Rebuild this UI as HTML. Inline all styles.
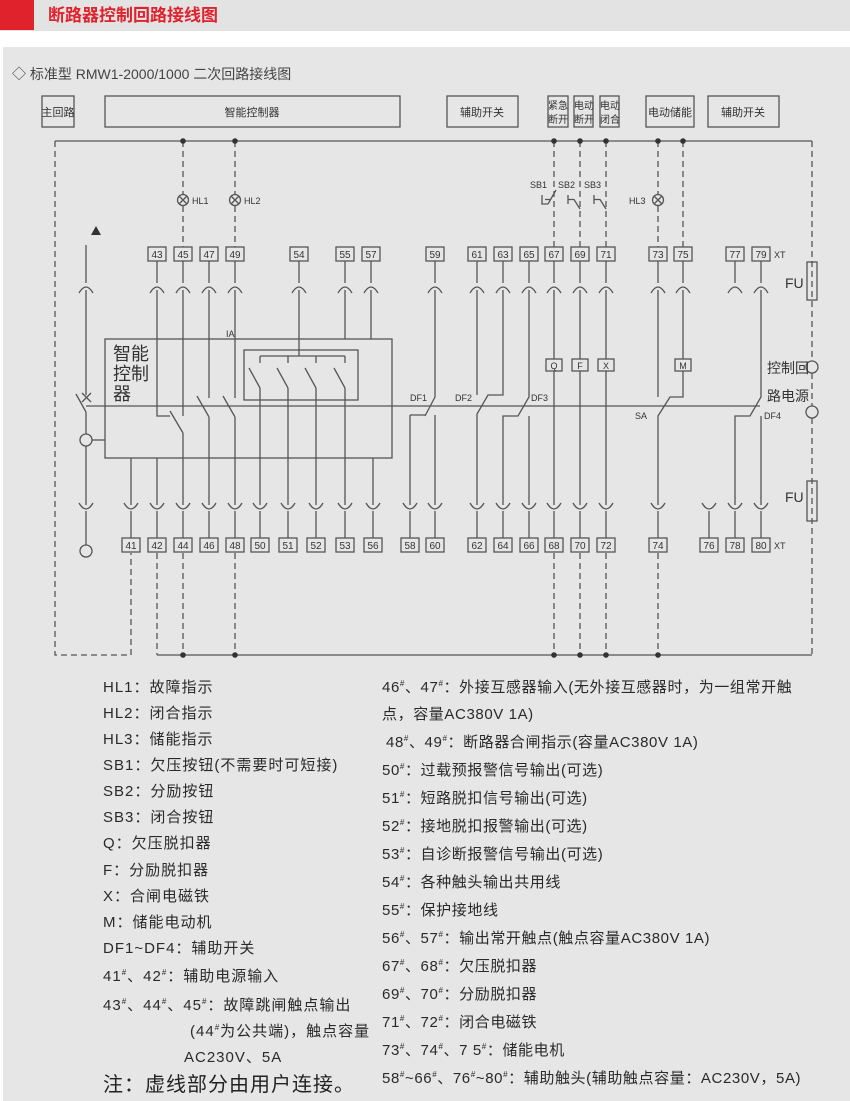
<!DOCTYPE html>
<html><head><meta charset="utf-8"><style>
html,body{margin:0;padding:0;background:#fff;}
svg{display:block;}
text{font-family:"Liberation Sans","Noto Sans CJK SC",sans-serif;fill:#333;}
.n{font-size:10px;text-anchor:middle;fill:#333;}
.b{font-size:11px;text-anchor:middle;}
.l{font-size:15px;fill:#2a2a2a;letter-spacing:1px;}
.r{letter-spacing:0.6px;}
.s{font-size:8px;}
</style></head><body>
<svg width="850" height="1101" viewBox="0 0 850 1101" xmlns="http://www.w3.org/2000/svg">
<rect x="0" y="0" width="850" height="31" fill="#e3e3e3"/>
<rect x="0" y="0" width="34" height="30" fill="#e0222c"/>
<text x="48" y="21" style="font-size:17px;fill:#e0222c;font-weight:bold">断路器控制回路接线图</text>
<rect x="3" y="47" width="847" height="1054" fill="#e6e6e6"/>
<text x="12" y="79" style="font-size:14px;fill:#444">◇ 标准型 RMW1-2000/1000 二次回路接线图</text>

<g fill="none" stroke="#555" stroke-width="1.3">
<rect x="42" y="96" width="32" height="31"/>
<rect x="105" y="96" width="295" height="31"/>
<rect x="447" y="96" width="71" height="31"/>
<rect x="548" y="96" width="20" height="31"/>
<rect x="574" y="96" width="19" height="31"/>
<rect x="600" y="96" width="19" height="31"/>
<rect x="646" y="96" width="48" height="31"/>
<rect x="708" y="96" width="71" height="31"/>
<path d="M55 141 H812"/>
<path d="M157 655 H812"/>
<g stroke-dasharray="6,4">
<path d="M55 141 V655 H131 V553"/>
<path d="M812 141 V361 M812 373 V406 M812 418 V655"/>
<path d="M157 553 V655"/>
<path d="M183 141 V194 M183 206 V247 M235 141 V194 M235 206 V247"/>
<path d="M554 141 V247 M580 141 V247 M606 141 V247"/>
<path d="M658 141 V194 M658 206 V247 M683 141 V247"/>
<path d="M183 553 V655 M235 553 V655 M554 553 V655 M580 553 V655 M606 553 V655 M658 553 V655"/>
</g>
<circle cx="183" cy="200" r="5.5"/><path d="M179 196 L187 204 M187 196 L179 204"/>
<circle cx="235" cy="200" r="5.5"/><path d="M231 196 L239 204 M239 196 L231 204"/>
<circle cx="658" cy="200" r="5.5"/><path d="M654 196 L662 204 M662 196 L654 204"/>
<path d="M542 195 V204 H548 M545 199.5 H551 M548 204 L556 190"/>
<path d="M568 195 V204 M568 199.5 H574 L580 209"/>
<path d="M594 195 V204 M594 199.5 H600 L606 209"/>
<g>
<rect x="148" y="247" width="18" height="14"/><rect x="174" y="247" width="18" height="14"/><rect x="200" y="247" width="18" height="14"/><rect x="226" y="247" width="18" height="14"/>
<rect x="290" y="247" width="18" height="14"/><rect x="336" y="247" width="18" height="14"/><rect x="362" y="247" width="18" height="14"/><rect x="426" y="247" width="18" height="14"/>
<rect x="468" y="247" width="18" height="14"/><rect x="494" y="247" width="18" height="14"/><rect x="520" y="247" width="18" height="14"/><rect x="545" y="247" width="18" height="14"/>
<rect x="571" y="247" width="18" height="14"/><rect x="597" y="247" width="18" height="14"/><rect x="649" y="247" width="18" height="14"/><rect x="674" y="247" width="18" height="14"/>
<rect x="726" y="247" width="18" height="14"/><rect x="752" y="247" width="18" height="14"/>
</g>
<g>
<rect x="122" y="538" width="18" height="14"/><rect x="148" y="538" width="18" height="14"/><rect x="174" y="538" width="18" height="14"/><rect x="200" y="538" width="18" height="14"/>
<rect x="226" y="538" width="18" height="14"/><rect x="251" y="538" width="18" height="14"/><rect x="279" y="538" width="18" height="14"/><rect x="307" y="538" width="18" height="14"/>
<rect x="336" y="538" width="18" height="14"/><rect x="364" y="538" width="18" height="14"/><rect x="401" y="538" width="18" height="14"/><rect x="426" y="538" width="18" height="14"/>
<rect x="468" y="538" width="18" height="14"/><rect x="494" y="538" width="18" height="14"/><rect x="520" y="538" width="18" height="14"/><rect x="545" y="538" width="18" height="14"/>
<rect x="571" y="538" width="18" height="14"/><rect x="597" y="538" width="18" height="14"/><rect x="649" y="538" width="18" height="14"/><rect x="700" y="538" width="18" height="14"/>
<rect x="726" y="538" width="18" height="14"/><rect x="752" y="538" width="18" height="14"/>
</g>
<g>
<path d="M79 293 Q86 281 93 293"/>
<path d="M150 293 Q157 281 164 293"/><path d="M176 293 Q183 281 190 293"/><path d="M202 293 Q209 281 216 293"/><path d="M228 293 Q235 281 242 293"/>
<path d="M292 293 Q299 281 306 293"/><path d="M338 293 Q345 281 352 293"/><path d="M364 293 Q371 281 378 293"/><path d="M428 293 Q435 281 442 293"/>
<path d="M470 293 Q477 281 484 293"/><path d="M496 293 Q503 281 510 293"/><path d="M522 293 Q529 281 536 293"/><path d="M547 293 Q554 281 561 293"/>
<path d="M573 293 Q580 281 587 293"/><path d="M599 293 Q606 281 613 293"/><path d="M651 293 Q658 281 665 293"/><path d="M676 293 Q683 281 690 293"/>
<path d="M728 293 Q735 281 742 293"/><path d="M754 293 Q761 281 768 293"/>
</g>
<g>
<path d="M79 503 Q86 515 93 503"/><path d="M124 503 Q131 515 138 503"/><path d="M150 503 Q157 515 164 503"/><path d="M176 503 Q183 515 190 503"/>
<path d="M202 503 Q209 515 216 503"/><path d="M228 503 Q235 515 242 503"/><path d="M253 503 Q260 515 267 503"/><path d="M281 503 Q288 515 295 503"/>
<path d="M309 503 Q316 515 323 503"/><path d="M338 503 Q345 515 352 503"/><path d="M366 503 Q373 515 380 503"/><path d="M403 503 Q410 515 417 503"/>
<path d="M428 503 Q435 515 442 503"/><path d="M470 503 Q477 515 484 503"/><path d="M496 503 Q503 515 510 503"/><path d="M522 503 Q529 515 536 503"/>
<path d="M547 503 Q554 515 561 503"/><path d="M573 503 Q580 515 587 503"/><path d="M599 503 Q606 515 613 503"/><path d="M651 503 Q658 515 665 503"/>
<path d="M702 503 Q709 515 716 503"/><path d="M728 503 Q735 515 742 503"/><path d="M754 503 Q761 515 768 503"/>
</g>
<path d="M157 261 V283 M183 261 V283 M209 261 V283 M235 261 V283 M299 261 V283 M345 261 V283 M371 261 V283 M435 261 V283 M477 261 V283 M503 261 V283 M529 261 V283 M554 261 V283 M580 261 V283 M606 261 V283 M658 261 V283 M683 261 V283 M735 261 V283 M761 261 V283"/>
<path d="M86 511 V545 M131 511 V538 M157 511 V538 M183 511 V538 M209 511 V538 M235 511 V538 M260 511 V538 M288 511 V538 M316 511 V538 M345 511 V538 M373 511 V538 M410 511 V538 M435 511 V538 M477 511 V538 M503 511 V538 M529 511 V538 M554 511 V538 M580 511 V538 M606 511 V538 M658 511 V538 M709 511 V538 M735 511 V538 M761 511 V538"/>
<path d="M86 245 V283 M86 290 V395 M76 394 L86 412 M82 393 L91 402 M91 393 L82 402 M86 412 V434 M86 446 V505"/>
<circle cx="86" cy="440" r="6"/><path d="M92 440 H105"/>
<circle cx="86" cy="551" r="6"/>
<rect x="105" y="339" width="287" height="119"/>
<path d="M86 406 H760"/>
<path d="M157 290 V416 H170 M170 411 L183 433 M183 290 V416 M183 433 V505"/>
<path d="M209 290 V398 M197 396 L209 417 M209 417 V505"/>
<path d="M235 290 V398 M223 396 L235 417 M235 417 V505"/>
<path d="M299 290 V356 M345 290 V339 M371 290 V339"/>
<rect x="244" y="350" width="114" height="50"/>
<path d="M260 356 H345 M260 356 V363 M288 356 V363 M316 356 V363 M345 356 V363"/>
<path d="M249 368 L260 388 M277 368 L288 388 M305 368 L316 388 M334 368 L345 388"/>
<path d="M260 388 V505 M288 388 V505 M316 388 V505 M345 388 V505"/>
<path d="M131 458 V505 M157 458 V505 M373 458 V505"/>
<path d="M435 290 V397 L425 416 M410 415 H425 M410 415 V505 M435 415 V505"/>
<path d="M477 290 V395 M503 290 V395 H488 L477 414 V505"/>
<path d="M529 290 V397 L518 416 H503 V505 M529 416 V505"/>
<path d="M554 290 V505 M580 290 V505 M606 290 V505"/>
<rect x="546" y="359" width="16" height="12" fill="#e6e6e6"/><rect x="572" y="359" width="16" height="12" fill="#e6e6e6"/><rect x="598" y="359" width="16" height="12" fill="#e6e6e6"/>
<path d="M658 290 V397 M683 290 V397 H670 L658 416 V505"/>
<rect x="675" y="359" width="16" height="12" fill="#e6e6e6"/>
<path d="M761 290 V397 L750 416 H735 V505 M761 416 V505"/>
<circle cx="812" cy="367" r="6"/><circle cx="812" cy="412" r="6"/>
<rect x="807" y="262" width="10" height="38" fill="none"/>
<rect x="807" y="481" width="10" height="40" fill="none"/>
<polygon points="96,226 91,235 101,235" fill="#333" stroke="none"/>
</g>
<g fill="#333">
<circle cx="183" cy="141" r="2.8"/><circle cx="235" cy="141" r="2.8"/><circle cx="554" cy="141" r="2.8"/><circle cx="580" cy="141" r="2.8"/><circle cx="606" cy="141" r="2.8"/><circle cx="658" cy="141" r="2.8"/><circle cx="683" cy="141" r="2.8"/>
<circle cx="183" cy="655" r="2.8"/><circle cx="235" cy="655" r="2.8"/><circle cx="554" cy="655" r="2.8"/><circle cx="580" cy="655" r="2.8"/><circle cx="606" cy="655" r="2.8"/><circle cx="658" cy="655" r="2.8"/>
</g>
<text x="58" y="116" class="b">主回路</text>
<text x="252" y="116" class="b">智能控制器</text>
<text x="482" y="116" class="b">辅助开关</text>
<text x="558" y="109" class="b" style="font-size:10px">紧急</text><text x="558" y="123" class="b" style="font-size:10px">断开</text>
<text x="584" y="109" class="b" style="font-size:10px">电动</text><text x="584" y="123" class="b" style="font-size:10px">断开</text>
<text x="610" y="109" class="b" style="font-size:10px">电动</text><text x="610" y="123" class="b" style="font-size:10px">闭合</text>
<text x="670" y="116" class="b">电动储能</text>
<text x="743" y="116" class="b">辅助开关</text>
<g style="font-size:9px">
<text x="192" y="204">HL1</text><text x="244" y="204">HL2</text><text x="629" y="204">HL3</text>
<text x="530" y="188">SB1</text><text x="558" y="188">SB2</text><text x="584" y="188">SB3</text>
<text x="226" y="337">IA</text>
<text x="410" y="401">DF1</text><text x="455" y="401">DF2</text><text x="531" y="401">DF3</text>
<text x="635" y="419">SA</text><text x="764" y="419">DF4</text>
<text x="774" y="258">XT</text><text x="774" y="549">XT</text>
</g>
<text x="785" y="288" style="font-size:14px">FU</text>
<text x="785" y="502" style="font-size:14px">FU</text>
<text x="767" y="373" style="font-size:14px">控制回</text>
<text x="767" y="401" style="font-size:14px">路电源</text>
<text x="113" y="360" style="font-size:18px">智能</text>
<text x="113" y="380" style="font-size:18px">控制</text>
<text x="113" y="400" style="font-size:18px">器</text>
<g class="n">
<text x="157" y="258" class="n">43</text><text x="183" y="258" class="n">45</text><text x="209" y="258" class="n">47</text><text x="235" y="258" class="n">49</text>
<text x="299" y="258" class="n">54</text><text x="345" y="258" class="n">55</text><text x="371" y="258" class="n">57</text><text x="435" y="258" class="n">59</text>
<text x="477" y="258" class="n">61</text><text x="503" y="258" class="n">63</text><text x="529" y="258" class="n">65</text><text x="554" y="258" class="n">67</text>
<text x="580" y="258" class="n">69</text><text x="606" y="258" class="n">71</text><text x="658" y="258" class="n">73</text><text x="683" y="258" class="n">75</text>
<text x="735" y="258" class="n">77</text><text x="761" y="258" class="n">79</text>
<text x="131" y="549" class="n">41</text><text x="157" y="549" class="n">42</text><text x="183" y="549" class="n">44</text><text x="209" y="549" class="n">46</text>
<text x="235" y="549" class="n">48</text><text x="260" y="549" class="n">50</text><text x="288" y="549" class="n">51</text><text x="316" y="549" class="n">52</text>
<text x="345" y="549" class="n">53</text><text x="373" y="549" class="n">56</text><text x="410" y="549" class="n">58</text><text x="435" y="549" class="n">60</text>
<text x="477" y="549" class="n">62</text><text x="503" y="549" class="n">64</text><text x="529" y="549" class="n">66</text><text x="554" y="549" class="n">68</text>
<text x="580" y="549" class="n">70</text><text x="606" y="549" class="n">72</text><text x="658" y="549" class="n">74</text><text x="709" y="549" class="n">76</text>
<text x="735" y="549" class="n">78</text><text x="761" y="549" class="n">80</text>
<text x="554" y="369" class="n" style="font-size:9px">Q</text><text x="580" y="369" class="n" style="font-size:9px">F</text><text x="606" y="369" class="n" style="font-size:9px">X</text><text x="683" y="369" class="n" style="font-size:9px">M</text>
</g>
<g>
<text x="103" y="692" class="l">HL1：故障指示</text>
<text x="103" y="718" class="l">HL2：闭合指示</text>
<text x="103" y="744" class="l">HL3：储能指示</text>
<text x="103" y="770" class="l">SB1：欠压按钮(不需要时可短接)</text>
<text x="103" y="796" class="l">SB2：分励按钮</text>
<text x="103" y="822" class="l">SB3：闭合按钮</text>
<text x="103" y="848" class="l">Q：欠压脱扣器</text>
<text x="103" y="875" class="l">F：分励脱扣器</text>
<text x="103" y="901" class="l">X：合闸电磁铁</text>
<text x="103" y="927" class="l">M：储能电动机</text>
<text x="103" y="953" class="l">DF1~DF4：辅助开关</text>
<text x="103" y="981" class="l">41<tspan class="s" dy="-6">#</tspan><tspan dy="6">、42</tspan><tspan class="s" dy="-6">#</tspan><tspan dy="6">：辅助电源输入</tspan></text>
<text x="103" y="1010" class="l">43<tspan class="s" dy="-6">#</tspan><tspan dy="6">、44</tspan><tspan class="s" dy="-6">#</tspan><tspan dy="6">、45</tspan><tspan class="s" dy="-6">#</tspan><tspan dy="6">：故障跳闸触点输出</tspan></text>
<text x="190" y="1036" class="l">(44<tspan class="s" dy="-6">#</tspan><tspan dy="6">为公共端)，触点容量</tspan></text>
<text x="184" y="1062" class="l">AC230V、5A</text>
<text x="103" y="1091" style="font-size:20px;fill:#222;letter-spacing:1px">注：虚线部分由用户连接。</text>
</g>
<g>
<text x="382" y="692" class="l r">46<tspan class="s" dy="-6">#</tspan><tspan dy="6">、47</tspan><tspan class="s" dy="-6">#</tspan><tspan dy="6">：外接互感器输入(无外接互感器时，为一组常开触</tspan></text>
<text x="382" y="719" class="l r">点，容量AC380V 1A)</text>
<text x="386" y="747" class="l r">48<tspan class="s" dy="-6">#</tspan><tspan dy="6">、49</tspan><tspan class="s" dy="-6">#</tspan><tspan dy="6">：断路器合闸指示(容量AC380V 1A)</tspan></text>
<text x="382" y="775" class="l r">50<tspan class="s" dy="-6">#</tspan><tspan dy="6">：过载预报警信号输出(可选)</tspan></text>
<text x="382" y="803" class="l r">51<tspan class="s" dy="-6">#</tspan><tspan dy="6">：短路脱扣信号输出(可选)</tspan></text>
<text x="382" y="831" class="l r">52<tspan class="s" dy="-6">#</tspan><tspan dy="6">：接地脱扣报警输出(可选)</tspan></text>
<text x="382" y="859" class="l r">53<tspan class="s" dy="-6">#</tspan><tspan dy="6">：自诊断报警信号输出(可选)</tspan></text>
<text x="382" y="887" class="l r">54<tspan class="s" dy="-6">#</tspan><tspan dy="6">：各种触头输出共用线</tspan></text>
<text x="382" y="915" class="l r">55<tspan class="s" dy="-6">#</tspan><tspan dy="6">：保护接地线</tspan></text>
<text x="382" y="943" class="l r">56<tspan class="s" dy="-6">#</tspan><tspan dy="6">、57</tspan><tspan class="s" dy="-6">#</tspan><tspan dy="6">：输出常开触点(触点容量AC380V 1A)</tspan></text>
<text x="382" y="971" class="l r">67<tspan class="s" dy="-6">#</tspan><tspan dy="6">、68</tspan><tspan class="s" dy="-6">#</tspan><tspan dy="6">：欠压脱扣器</tspan></text>
<text x="382" y="999" class="l r">69<tspan class="s" dy="-6">#</tspan><tspan dy="6">、70</tspan><tspan class="s" dy="-6">#</tspan><tspan dy="6">：分励脱扣器</tspan></text>
<text x="382" y="1027" class="l r">71<tspan class="s" dy="-6">#</tspan><tspan dy="6">、72</tspan><tspan class="s" dy="-6">#</tspan><tspan dy="6">：闭合电磁铁</tspan></text>
<text x="382" y="1055" class="l r">73<tspan class="s" dy="-6">#</tspan><tspan dy="6">、74</tspan><tspan class="s" dy="-6">#</tspan><tspan dy="6">、7 5</tspan><tspan class="s" dy="-6">#</tspan><tspan dy="6">：储能电机</tspan></text>
<text x="382" y="1083" class="l r">58<tspan class="s" dy="-6">#</tspan><tspan dy="6">~66</tspan><tspan class="s" dy="-6">#</tspan><tspan dy="6">、76</tspan><tspan class="s" dy="-6">#</tspan><tspan dy="6">~80</tspan><tspan class="s" dy="-6">#</tspan><tspan dy="6">：辅助触头(辅助触点容量：AC230V，5A)</tspan></text>
</g>
</svg>
</body></html>
